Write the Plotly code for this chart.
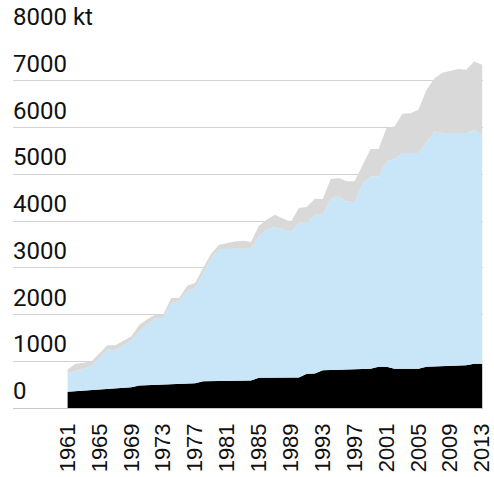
import plotly.graph_objects as go

# ==========================================
# DATA (kt per year, stacked layers)
# ==========================================

years = list(range(1961, 2014))

bottom_layer = [
    346, 358, 370, 383, 395, 407, 420, 432, 444, 481,
    488, 495, 502, 510, 517, 524, 531, 573, 575, 578,
    580, 582, 584, 588, 645, 645, 645, 645, 645, 650,
    731, 740, 808, 812, 816, 820, 826, 832, 840, 880,
    880, 838, 838, 838, 838, 880, 885, 892, 900, 908,
    915, 944, 944
]

middle_layer = [
    391, 428, 470, 510, 675, 843, 815, 898, 996, 1160,
    1292, 1432, 1425, 1738, 1765, 1972, 2037, 2327, 2625, 2822,
    2820, 2823, 2824, 2820, 3035, 3175, 3227, 3175, 3112, 3310,
    3229, 3395, 3327, 3658, 3710, 3600, 3574, 3968, 4113, 4073,
    4396, 4482, 4614, 4614, 4614, 4800, 5030, 4988, 4980, 4972,
    4965, 5006, 4900
]

top_layer = [
    86, 158, 130, 107, 100, 92, 107, 110, 94, 139,
    120, 71, 71, 107, 73, 121, 107, 100, 100, 94,
    130, 159, 171, 143, 220, 210, 263, 244, 222, 318,
    340, 341, 335, 427, 392, 430, 450, 400, 585, 585,
    711, 701, 841, 855, 928, 1120, 1135, 1290, 1340, 1374,
    1353, 1460, 1496
]

y_ticks = [0, 1000, 2000, 3000, 4000, 5000, 6000, 7000, 8000]
y_labels = ["0", "1000", "2000", "3000", "4000", "5000", "6000", "7000", "8000 kt"]

x_ticks = list(range(1961, 2014, 4))

# ==========================================
# STACKED AREA
# ==========================================

fig = go.Figure()

layers = [
    (bottom_layer, "#000000"),
    (middle_layer, "#c9e6f8"),
    (top_layer, "#d9d9d9"),
]

for values, colour in layers:

    fig.add_trace(
        go.Scatter(
            x=years,
            y=values,
            mode="lines",
            stackgroup="one",
            line=dict(width=0, color=colour),
            fillcolor=colour,
            hoverinfo="skip",
        )
    )

# y labels sit above their gridlines, left aligned
for value, label in zip(y_ticks, y_labels):

    fig.add_annotation(
        x=0,
        xref="paper",
        y=value,
        yref="y",
        text=label,
        showarrow=False,
        xanchor="left",
        yanchor="bottom",
        xshift=-2,
        yshift=1,
        font=dict(family="Roboto", size=24, color="#111111"),
    )

fig.update_layout(
    width=494,
    height=477,
    margin=dict(l=13, r=11, t=34, b=69, autoexpand=False),
    paper_bgcolor="white",
    plot_bgcolor="white",
    showlegend=False,
)

fig.update_xaxes(
    type="linear",
    automargin=False,
    range=[1954.15, 2013.1],
    tickvals=x_ticks,
    ticktext=[str(y) for y in x_ticks],
    tickangle=-90,
    ticklabelstandoff=10,
    ticklabeloverflow="allow",
    tickfont=dict(family="Liberation Sans", size=22, color="#111111"),
    showgrid=False,
    zeroline=False,
    showline=False,
    ticks="",
)

fig.update_yaxes(
    automargin=False,
    range=[0, 8000],
    tickvals=y_ticks,
    showticklabels=False,
    showgrid=True,
    gridcolor="#d2d2d2",
    gridwidth=1,
    zeroline=True,
    zerolinecolor="#c8c8c8",
    zerolinewidth=1,
)

# drop the browser's default body margin so the figure sits at the page corner
fig.write_html(
    "out.html",
    config={"displayModeBar": False},
    post_script="document.body.style.margin = '0';",
)
